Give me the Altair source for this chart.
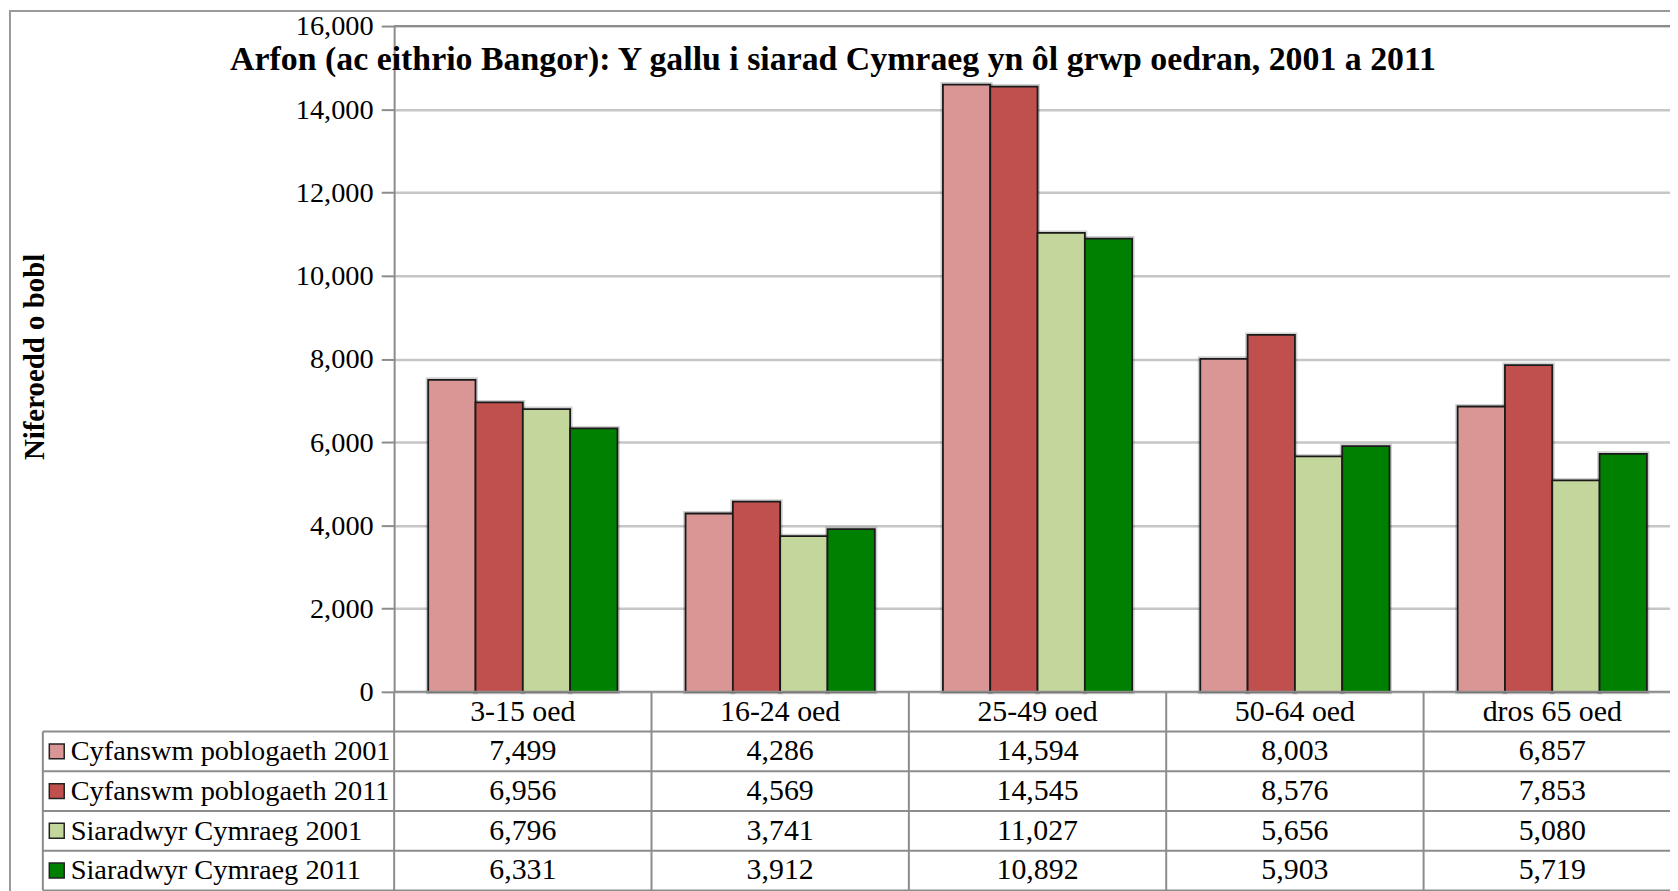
import altair as alt
import pandas as pd

# ---------------- data ----------------
categories = ["3-15 oed", "16-24 oed", "25-49 oed", "50-64 oed", "dros 65 oed"]
series = [
    "Cyfanswm poblogaeth 2001",
    "Cyfanswm poblogaeth 2011",
    "Siaradwyr Cymraeg 2001",
    "Siaradwyr Cymraeg 2011",
]
pop_2001 = [7499, 4286, 14594, 8003, 6857]
pop_2011 = [6956, 4569, 14545, 8576, 7853]
welsh_2001 = [6796, 3741, 11027, 5656, 5080]
welsh_2011 = [6331, 3912, 10892, 5903, 5719]
colors = ["#D99694", "#C0504D", "#C3D69B", "#008000"]
y_ticks = [0, 2000, 4000, 6000, 8000, 10000, 12000, 14000, 16000]
title_text = "Arfon (ac eithrio Bangor): Y gallu i siarad Cymraeg yn ôl grwp oedran, 2001 a 2011"
y_title = "Niferoedd o bobl"

values_by_series = [pop_2001, pop_2011, welsh_2001, welsh_2011]

# ---------------- layout ----------------
PAD_T = 16
W, H = 1282, 669          # visible plot area
FULL_W = 1293             # 5 table columns (last one runs past the page edge)
ROW_H = 39.9
FONT = "Liberation Serif"
FS = 30
FS_TICK = 28.5
FS_LEG = 28.5
GRID = "#c6c6c6"
LINE = "#8c8c8c"

records = []
for si, (s, vals) in enumerate(zip(series, values_by_series)):
    for c, v in zip(categories, vals):
        records.append({"cat": c, "series": s, "value": v,
                        "row": si + 1.5, "label": f"{v:,}"})
df = pd.DataFrame(records)

x_scale = alt.Scale(domain=categories, range=[0, FULL_W], paddingInner=0, paddingOuter=0)
off_scale = alt.Scale(domain=series, paddingInner=0, paddingOuter=0.72)
y_dom = alt.Scale(domain=[0, 16000], nice=False)
t_scale = alt.Scale(domain=[0, 5], range=[H, H + 5 * ROW_H], nice=False, zero=False)
color_scale = alt.Scale(domain=series, range=colors)

X_cat = alt.X("cat:N", scale=x_scale, sort=categories, axis=None)

# frame
frame = alt.Chart(pd.DataFrame({"a": [0]})).mark_rect(
    fillOpacity=0, stroke="#9a9a9a", strokeWidth=2
).encode(x=alt.value(-386), x2=alt.value(W + 30), y=alt.value(-PAD_T + 1), y2=alt.value(H + 300))

# bar shadow
shadow = alt.Chart(df).mark_bar(
    fill="#000000", fillOpacity=0, stroke="#000000", strokeOpacity=0.18, strokeWidth=5
).encode(
    x=X_cat,
    xOffset=alt.XOffset("series:N", scale=off_scale, sort=series),
    y=alt.Y("value:Q", scale=y_dom, axis=None),
)

bars = alt.Chart(df).mark_bar(stroke="#1a1a1a", strokeWidth=1.8).encode(
    x=X_cat,
    xOffset=alt.XOffset("series:N", scale=off_scale, sort=series),
    y=alt.Y(
        "value:Q",
        scale=y_dom,
        axis=alt.Axis(
            values=y_ticks, format=",d",
            labelFont=FONT, labelFontSize=FS_TICK, labelColor="black", labelPadding=8,
            tickSize=13, tickColor=LINE, tickWidth=2,
            domainColor=LINE, domainWidth=2,
            grid=True, gridColor=GRID, gridWidth=2.5,
            title=y_title, titleFont=FONT, titleFontSize=FS - 1, titleFontWeight="bold",
            titleColor="black", titleAngle=270, titleX=-361, titleY=332,
            titleAlign="center", titleBaseline="middle",
        ),
    ),
    color=alt.Color("series:N", scale=color_scale, legend=None),
)

top_line = alt.Chart(pd.DataFrame({"v": [16000]})).mark_rule(
    color=LINE, strokeWidth=2
).encode(y=alt.Y("v:Q", scale=y_dom, axis=None), x=alt.value(0), x2=alt.value(W))

# table lines
axis_line = alt.Chart(pd.DataFrame({"r": [0]})).mark_rule(color=LINE, strokeWidth=2).encode(
    x=alt.value(0), x2=alt.value(W), y=alt.Y("r:Q", scale=t_scale, axis=None))
hlines = alt.Chart(pd.DataFrame({"r": [1, 2, 3, 4, 5]})).mark_rule(color=LINE, strokeWidth=2).encode(
    x=alt.value(-353), x2=alt.value(W), y=alt.Y("r:Q", scale=t_scale, axis=None))
vlines = alt.Chart(pd.DataFrame({"cat": categories, "r0": [0] * 5, "r1": [5] * 5})).mark_rule(
    color=LINE, strokeWidth=2
).encode(
    x=alt.X("cat:N", scale=x_scale, sort=categories, axis=None, bandPosition=0),
    y=alt.Y("r0:Q", scale=t_scale, axis=None), y2="r1:Q")
left_border = alt.Chart(pd.DataFrame({"r0": [1], "r1": [5]})).mark_rule(color=LINE, strokeWidth=2).encode(
    x=alt.value(-353), y=alt.Y("r0:Q", scale=t_scale, axis=None), y2="r1:Q")

# table text
header = alt.Chart(pd.DataFrame({"cat": categories, "r": [0.5] * 5})).mark_text(
    font=FONT, fontSize=FS, baseline="middle", color="black"
).encode(x=X_cat, y=alt.Y("r:Q", scale=t_scale, axis=None), text="cat:N")

cells = alt.Chart(df).mark_text(
    font=FONT, fontSize=FS, baseline="middle", color="black"
).encode(x=X_cat, y=alt.Y("row:Q", scale=t_scale, axis=None), text="label:N")

leg_df = pd.DataFrame({"series": series, "r": [1.5, 2.5, 3.5, 4.5]})
leg_sq = alt.Chart(leg_df).mark_square(size=225, stroke="#222222", strokeWidth=1.5, opacity=1).encode(
    x=alt.value(-339), y=alt.Y("r:Q", scale=t_scale, axis=None),
    color=alt.Color("series:N", scale=color_scale, legend=None))
leg_txt = alt.Chart(leg_df).mark_text(
    font=FONT, fontSize=FS_LEG, baseline="middle", align="left", color="black"
).encode(x=alt.value(-325), y=alt.Y("r:Q", scale=t_scale, axis=None), text="series:N")

title = alt.Chart(pd.DataFrame({"t": [title_text]})).mark_text(
    font=FONT, fontSize=34, fontWeight="bold", baseline="middle", align="center", color="black"
).encode(x=alt.value(441), y=alt.value(34), text="t:N")

chart = alt.layer(
    frame, shadow, bars, top_line, axis_line, hlines, vlines, left_border,
    header, cells, leg_sq, leg_txt, title,
).resolve_scale(y="independent").properties(
    width=W, height=H,
    autosize=alt.AutoSizeParams(type="none"),
    padding={"left": 388, "top": PAD_T, "right": 0, "bottom": 883 - PAD_T - H},
    background="white",
).configure_view(stroke=None)

chart.save("out.html", embed_options={"renderer": "svg", "actions": False})
